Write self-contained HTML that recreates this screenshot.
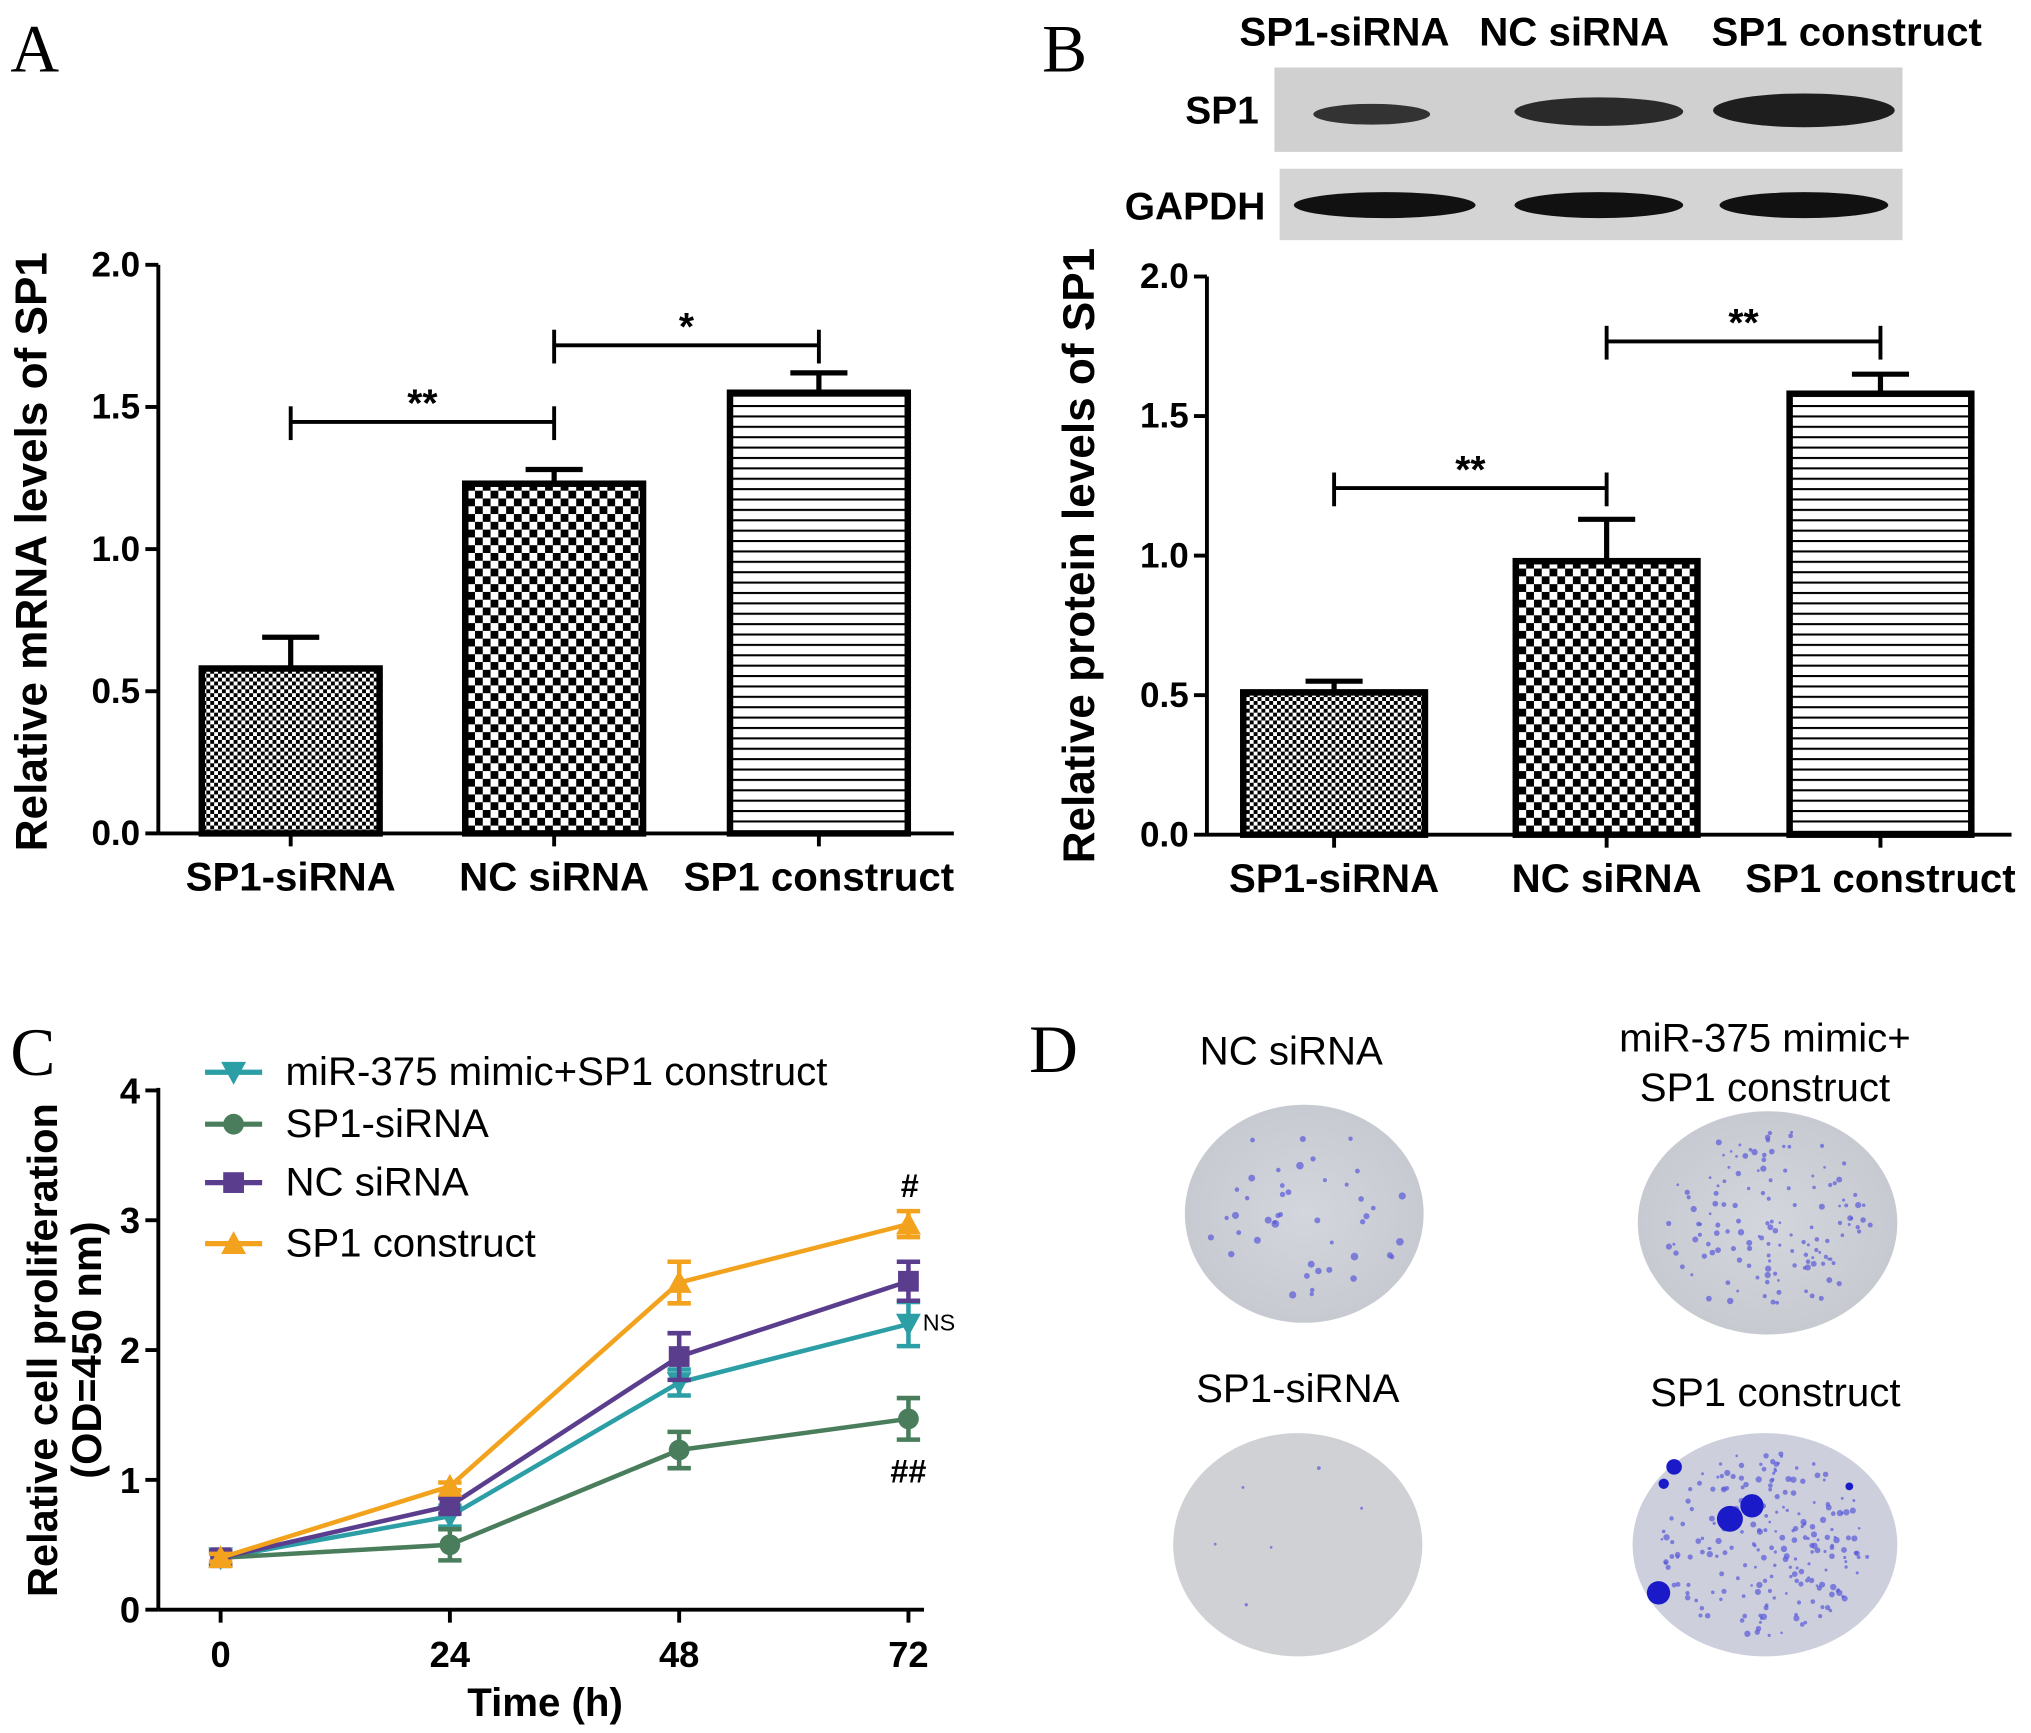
<!DOCTYPE html>
<html><head><meta charset="utf-8"><style>
html,body{margin:0;padding:0;background:#fff;}
svg{display:block;}
text{font-family:"Liberation Sans",Arial,sans-serif;}
.b{font-weight:bold;}
</style></head><body>
<svg id="fig" width="2031" height="1733" viewBox="0 0 1565 1335" preserveAspectRatio="none" xmlns="http://www.w3.org/2000/svg">
<defs>
<pattern id="pFine" width="6" height="6" patternUnits="userSpaceOnUse"><rect width="6" height="6" fill="#fff"/><rect width="3" height="3" fill="#000"/><rect x="3" y="3" width="3" height="3" fill="#000"/></pattern>
<pattern id="pCheck" width="12" height="12" patternUnits="userSpaceOnUse"><rect width="12" height="12" fill="#fff"/><rect width="6" height="6" fill="#000"/><rect x="6" y="6" width="6" height="6" fill="#000"/></pattern>
<pattern id="pLines" width="10" height="8" patternUnits="userSpaceOnUse"><rect width="10" height="8" fill="#fff"/><rect y="0" width="10" height="1.6" fill="#000"/></pattern>
<radialGradient id="dishG"><stop offset="0" stop-color="#d4d6de"/><stop offset="1" stop-color="#c8cad2"/></radialGradient>
</defs>
<text x="8" y="55" font-size="52" style="font-family:'Liberation Serif',serif">A</text>
<text x="803" y="55" font-size="52" style="font-family:'Liberation Serif',serif">B</text>
<text x="8" y="828" font-size="52" style="font-family:'Liberation Serif',serif">C</text>
<text x="793" y="826" font-size="52" style="font-family:'Liberation Serif',serif">D</text>
<g id="chartA"></g>
<g id="chartB"></g>
<g id="blot">
<text class="b" x="1036" y="35" font-size="31" text-anchor="middle">SP1-siRNA</text>
<text class="b" x="1213" y="35" font-size="31" text-anchor="middle">NC siRNA</text>
<text class="b" x="1423" y="35" font-size="31" text-anchor="middle">SP1 construct</text>
<text class="b" x="970" y="95" font-size="30" text-anchor="end">SP1</text>
<text class="b" x="975" y="169" font-size="30" text-anchor="end">GAPDH</text>
<rect x="982" y="52" width="484" height="65" fill="#d0d0d0"/>
<rect x="986" y="130" width="480" height="55" fill="#d4d4d4"/>
<ellipse cx="1057" cy="88" rx="45" ry="8" fill="#333"/>
<ellipse cx="1232" cy="86" rx="65" ry="11" fill="#2a2a2a"/>
<ellipse cx="1390" cy="85" rx="70" ry="13" fill="#1e1e1e"/>
<ellipse cx="1067" cy="158" rx="70" ry="10" fill="#111"/>
<ellipse cx="1232" cy="158" rx="65" ry="10" fill="#111"/>
<ellipse cx="1390" cy="158" rx="65" ry="10" fill="#111"/>
</g>
<g id="chartC"></g>
<g id="dishes">
<text x="995" y="820" font-size="31" text-anchor="middle">NC siRNA</text>
<text x="1360" y="810" font-size="31" text-anchor="middle">miR-375 mimic+</text>
<text x="1360" y="848" font-size="31" text-anchor="middle">SP1 construct</text>
<text x="1000" y="1080" font-size="31" text-anchor="middle">SP1-siRNA</text>
<text x="1368" y="1083" font-size="31" text-anchor="middle">SP1 construct</text>
<ellipse cx="1005" cy="935" rx="92" ry="84" fill="url(#dishG)"/>
<ellipse cx="1362" cy="942" rx="100" ry="86" fill="url(#dishG)"/>
<ellipse cx="1000" cy="1190" rx="96" ry="86" fill="#d0d1d5"/>
<ellipse cx="1360" cy="1190" rx="102" ry="86" fill="#cdd0dc"/>
<g id="dots" fill="#4a4ad0"></g>
</g>
</svg>
<script>
// ---- Panel A data ----
const catsA = ["SP1-siRNA","NC siRNA","SP1 construct"];
const valsA = [0.58, 1.23, 1.55];
const errA = [0.11, 0.05, 0.07];
const ticksA = ["0.0","0.5","1.0","1.5","2.0"];
// ---- Panel B data ----
const catsB = ["SP1-siRNA","NC siRNA","SP1 construct"];
const valsB = [0.51, 0.98, 1.58];
const errB = [0.04, 0.15, 0.07];
const ticksB = ["0.0","0.5","1.0","1.5","2.0"];
// ---- Panel C data ----
const timesC = [0, 24, 48, 72];
const ticksCy = [0,1,2,3,4];
const seriesNames = ["miR-375 mimic+SP1 construct","SP1-siRNA","NC siRNA","SP1 construct"];
const mirVals = [0.40, 0.72, 1.75, 2.20];
const mirErr = [0.05, 0.08, 0.10, 0.17];
const sirnaVals = [0.40, 0.50, 1.23, 1.47];
const sirnaErr = [0.05, 0.12, 0.14, 0.16];
const ncVals = [0.40, 0.80, 1.95, 2.53];
const ncErr = [0.05, 0.06, 0.18, 0.15];
const conVals = [0.40, 0.95, 2.52, 2.97];
const conErr = [0.03, 0.03, 0.16, 0.10];

const NS="http://www.w3.org/2000/svg";
function mk(p,tag,at,txt){const e=document.createElementNS(NS,tag);for(const k in at)e.setAttribute(k,at[k]);if(txt!==undefined)e.textContent=txt;p.appendChild(e);return e;}

function barChart(g, cats, vals, errs, ticks, o){
  const y=v=>o.y0-(v/2)*(o.y0-o.y2);
  const xc=i=>o.c[i];
  let a=mk(g,'line',{x1:o.ax,y1:o.y2,x2:o.ax,y2:o.y0,stroke:'#000','stroke-width':3});
  
  
  a=mk(g,'line',{x1:o.ax,y1:o.y0,x2:o.xe,y2:o.y0,stroke:'#000','stroke-width':3});
  
  
  ticks.forEach((t,i)=>{const v=parseFloat(t),yy=y(v);
    mk(g,'line',{x1:o.ax-10,y1:yy,x2:o.ax,y2:yy,stroke:'#000','stroke-width':3});
    const tx=mk(g,'text',{x:o.ax-14,y:yy+9,'font-size':27,'text-anchor':'end','class':'b'},t);
    
    
  });
  const pats=['url(#pFine)','url(#pCheck)','url(#pLines)'];
  cats.forEach((c,i)=>{
    const x=xc(i), yv=y(vals[i]), ye=y(vals[i]+errs[i]);
    mk(g,'line',{x1:x,y1:o.y0,x2:x,y2:o.y0+10,stroke:'#000','stroke-width':3});
    mk(g,'line',{x1:x,y1:yv,x2:x,y2:ye,stroke:'#000','stroke-width':4});
    mk(g,'line',{x1:x-22,y1:ye,x2:x+22,y2:ye,stroke:'#000','stroke-width':4});
    const r=mk(g,'rect',{x:x-o.bw/2,y:yv,width:o.bw,height:o.y0-yv,fill:pats[i],stroke:'#000','stroke-width':5});
    
    
    const tl=mk(g,'text',{x:x,y:o.y0+44,'font-size':31,'text-anchor':'middle','class':'b'},c);
    
    
  });
  o.br.forEach(b=>{const yy=b.y;
    mk(g,'line',{x1:xc(b.a),y1:yy,x2:xc(b.b),y2:yy,stroke:'#000','stroke-width':3});
    mk(g,'line',{x1:xc(b.a),y1:yy-12,x2:xc(b.a),y2:yy+14,stroke:'#000','stroke-width':3});
    mk(g,'line',{x1:xc(b.b),y1:yy-12,x2:xc(b.b),y2:yy+14,stroke:'#000','stroke-width':3});
    const s=mk(g,'text',{x:(xc(b.a)+xc(b.b))/2,y:yy-4,'font-size':30,'text-anchor':'middle','class':'b'},b.t);
    
    
  });
  const t=mk(g,'text',{x:0,y:0,'font-size':34,'text-anchor':'middle','class':'b',transform:`translate(${o.tx},${o.ty}) rotate(-90)`},o.title);
  
  
}
barChart(document.getElementById('chartA'),catsA,valsA,errA,ticksA,{ax:122,xe:735,y0:642,y2:204,c:[224,427,631],bw:137,tx:36,ty:425,title:'Relative mRNA levels of SP1',br:[{a:0,b:1,y:325,t:'**'},{a:1,b:2,y:266,t:'*'}]});
barChart(document.getElementById('chartB'),catsB,valsB,errB,ticksB,{ax:930,xe:1550,y0:643,y2:213,c:[1028,1238,1449],bw:140,tx:843,ty:428,title:'Relative protein levels of SP1',br:[{a:0,b:1,y:376,t:'**'},{a:1,b:2,y:263,t:'**'}]});

// Panel C
(function(){
  const g=document.getElementById('chartC');
  const X=t=>170+(t/72)*(700-170);
  const Y=v=>1240-v*100;
  let a=mk(g,'line',{x1:122,y1:838,x2:122,y2:1240,stroke:'#000','stroke-width':3});
  
  
  a=mk(g,'line',{x1:122,y1:1240,x2:712,y2:1240,stroke:'#000','stroke-width':3});
  
  
  ticksCy.forEach(v=>{mk(g,'line',{x1:112,y1:Y(v),x2:122,y2:Y(v),stroke:'#000','stroke-width':3});
    const t=mk(g,'text',{x:108,y:Y(v)+10,'font-size':28,'text-anchor':'end','class':'b'},String(v));
    
    });
  timesC.forEach(v=>{mk(g,'line',{x1:X(v),y1:1240,x2:X(v),y2:1250,stroke:'#000','stroke-width':3});
    const t=mk(g,'text',{x:X(v),y:1284,'font-size':28,'text-anchor':'middle','class':'b'},String(v));
    
    });
  let t=mk(g,'text',{x:420,y:1322,'font-size':31,'text-anchor':'middle','class':'b'},'Time (h)');
  
  
  t=mk(g,'text',{x:0,y:0,'font-size':32,'text-anchor':'middle','class':'b',transform:'translate(44,1040) rotate(-90)'},'Relative cell proliferation');
  
  
  t=mk(g,'text',{x:0,y:0,'font-size':32,'text-anchor':'middle','class':'b',transform:'translate(78,1040) rotate(-90)'},'(OD=450 nm)');
  
  
  const series=[
    {v:mirVals,e:mirErr,c:'#2c9ea6',m:'tdown',n:'series-mir375-sp1'},
    {v:sirnaVals,e:sirnaErr,c:'#4a7d5c',m:'circle',n:'series-sp1-sirna'},
    {v:ncVals,e:ncErr,c:'#5b3d8e',m:'square',n:'series-nc-sirna'},
    {v:conVals,e:conErr,c:'#f2a21c',m:'tup',n:'series-sp1-construct'}];
  function marker(p,m,x,y,c,s){
    if(m==='circle')return mk(p,'circle',{cx:x,cy:y,r:s,fill:c});
    if(m==='square')return mk(p,'rect',{x:x-s,y:y-s,width:2*s,height:2*s,fill:c});
    if(m==='tup')return mk(p,'polygon',{points:`${x},${y-s*1.2} ${x-s*1.2},${y+s} ${x+s*1.2},${y+s}`,fill:c});
    return mk(p,'polygon',{points:`${x},${y+s*1.2} ${x-s*1.2},${y-s} ${x+s*1.2},${y-s}`,fill:c});
  }
  series.forEach((s,k)=>{
    const sg=mk(g,'g',{});
    
    
    const pts=timesC.map((tt,i)=>X(tt)+','+Y(s.v[i])).join(' ');
    mk(sg,'polyline',{points:pts,fill:'none',stroke:s.c,'stroke-width':3.5});
    timesC.forEach((tt,i)=>{const x=X(tt),y1=Y(s.v[i]+s.e[i]),y2=Y(s.v[i]-s.e[i]);
      mk(sg,'line',{x1:x,y1:y1,x2:x,y2:y2,stroke:s.c,'stroke-width':3.5});
      mk(sg,'line',{x1:x-9,y1:y1,x2:x+9,y2:y1,stroke:s.c,'stroke-width':3.5});
      mk(sg,'line',{x1:x-9,y1:y2,x2:x+9,y2:y2,stroke:s.c,'stroke-width':3.5});
      const mm=marker(sg,s.m,x,Y(s.v[i]),s.c,8);
      
      
    });
    const ly=[826,866,911,958][k];
    const lg=mk(g,'g',{});
    
    
    mk(lg,'line',{x1:158,y1:ly,x2:202,y2:ly,stroke:s.c,'stroke-width':4});
    marker(lg,s.m,180,ly,s.c,8);
    mk(lg,'text',{x:220,y:ly+10,'font-size':31},seriesNames[k]);
  });
  t=mk(g,'text',{x:701,y:922,'font-size':25,'text-anchor':'middle','class':'b'},'#');
  
  
  t=mk(g,'text',{x:711,y:1025,'font-size':18},'NS');
  
  
  t=mk(g,'text',{x:700,y:1142,'font-size':25,'text-anchor':'middle','class':'b'},'##');
  
  
})();

// decorative colony dots (image texture, not data)
(function(){
  const d=document.getElementById('dots');
  const spots=[[1005,935,45,3,1.5],[1362,942,140,2.5,1],[1000,1190,6,1.5,1],[1360,1190,220,2.5,1]];
  let seed=7;const rnd=()=>{seed=(seed*9301+49297)%233280;return seed/233280;};
  spots.forEach(([cx,cy,n,rmax,rmin])=>{for(let i=0;i<n;i++){const ang=rnd()*6.283,rr=Math.sqrt(rnd())*80;
    mk(d,'circle',{cx:cx+Math.cos(ang)*rr,cy:cy+Math.sin(ang)*rr*0.9,r:rmin+rnd()*(rmax-rmin),fill:'#5a5ad8','fill-opacity':0.7});}});
  [[1333,1170,10],[1350,1160,9],[1290,1130,6],[1282,1143,4],[1278,1227,9],[1425,1145,3]].forEach(b=>mk(d,'circle',{cx:b[0],cy:b[1],r:b[2],fill:'#1a1ac8'}));
})();
</script>
</body></html>
